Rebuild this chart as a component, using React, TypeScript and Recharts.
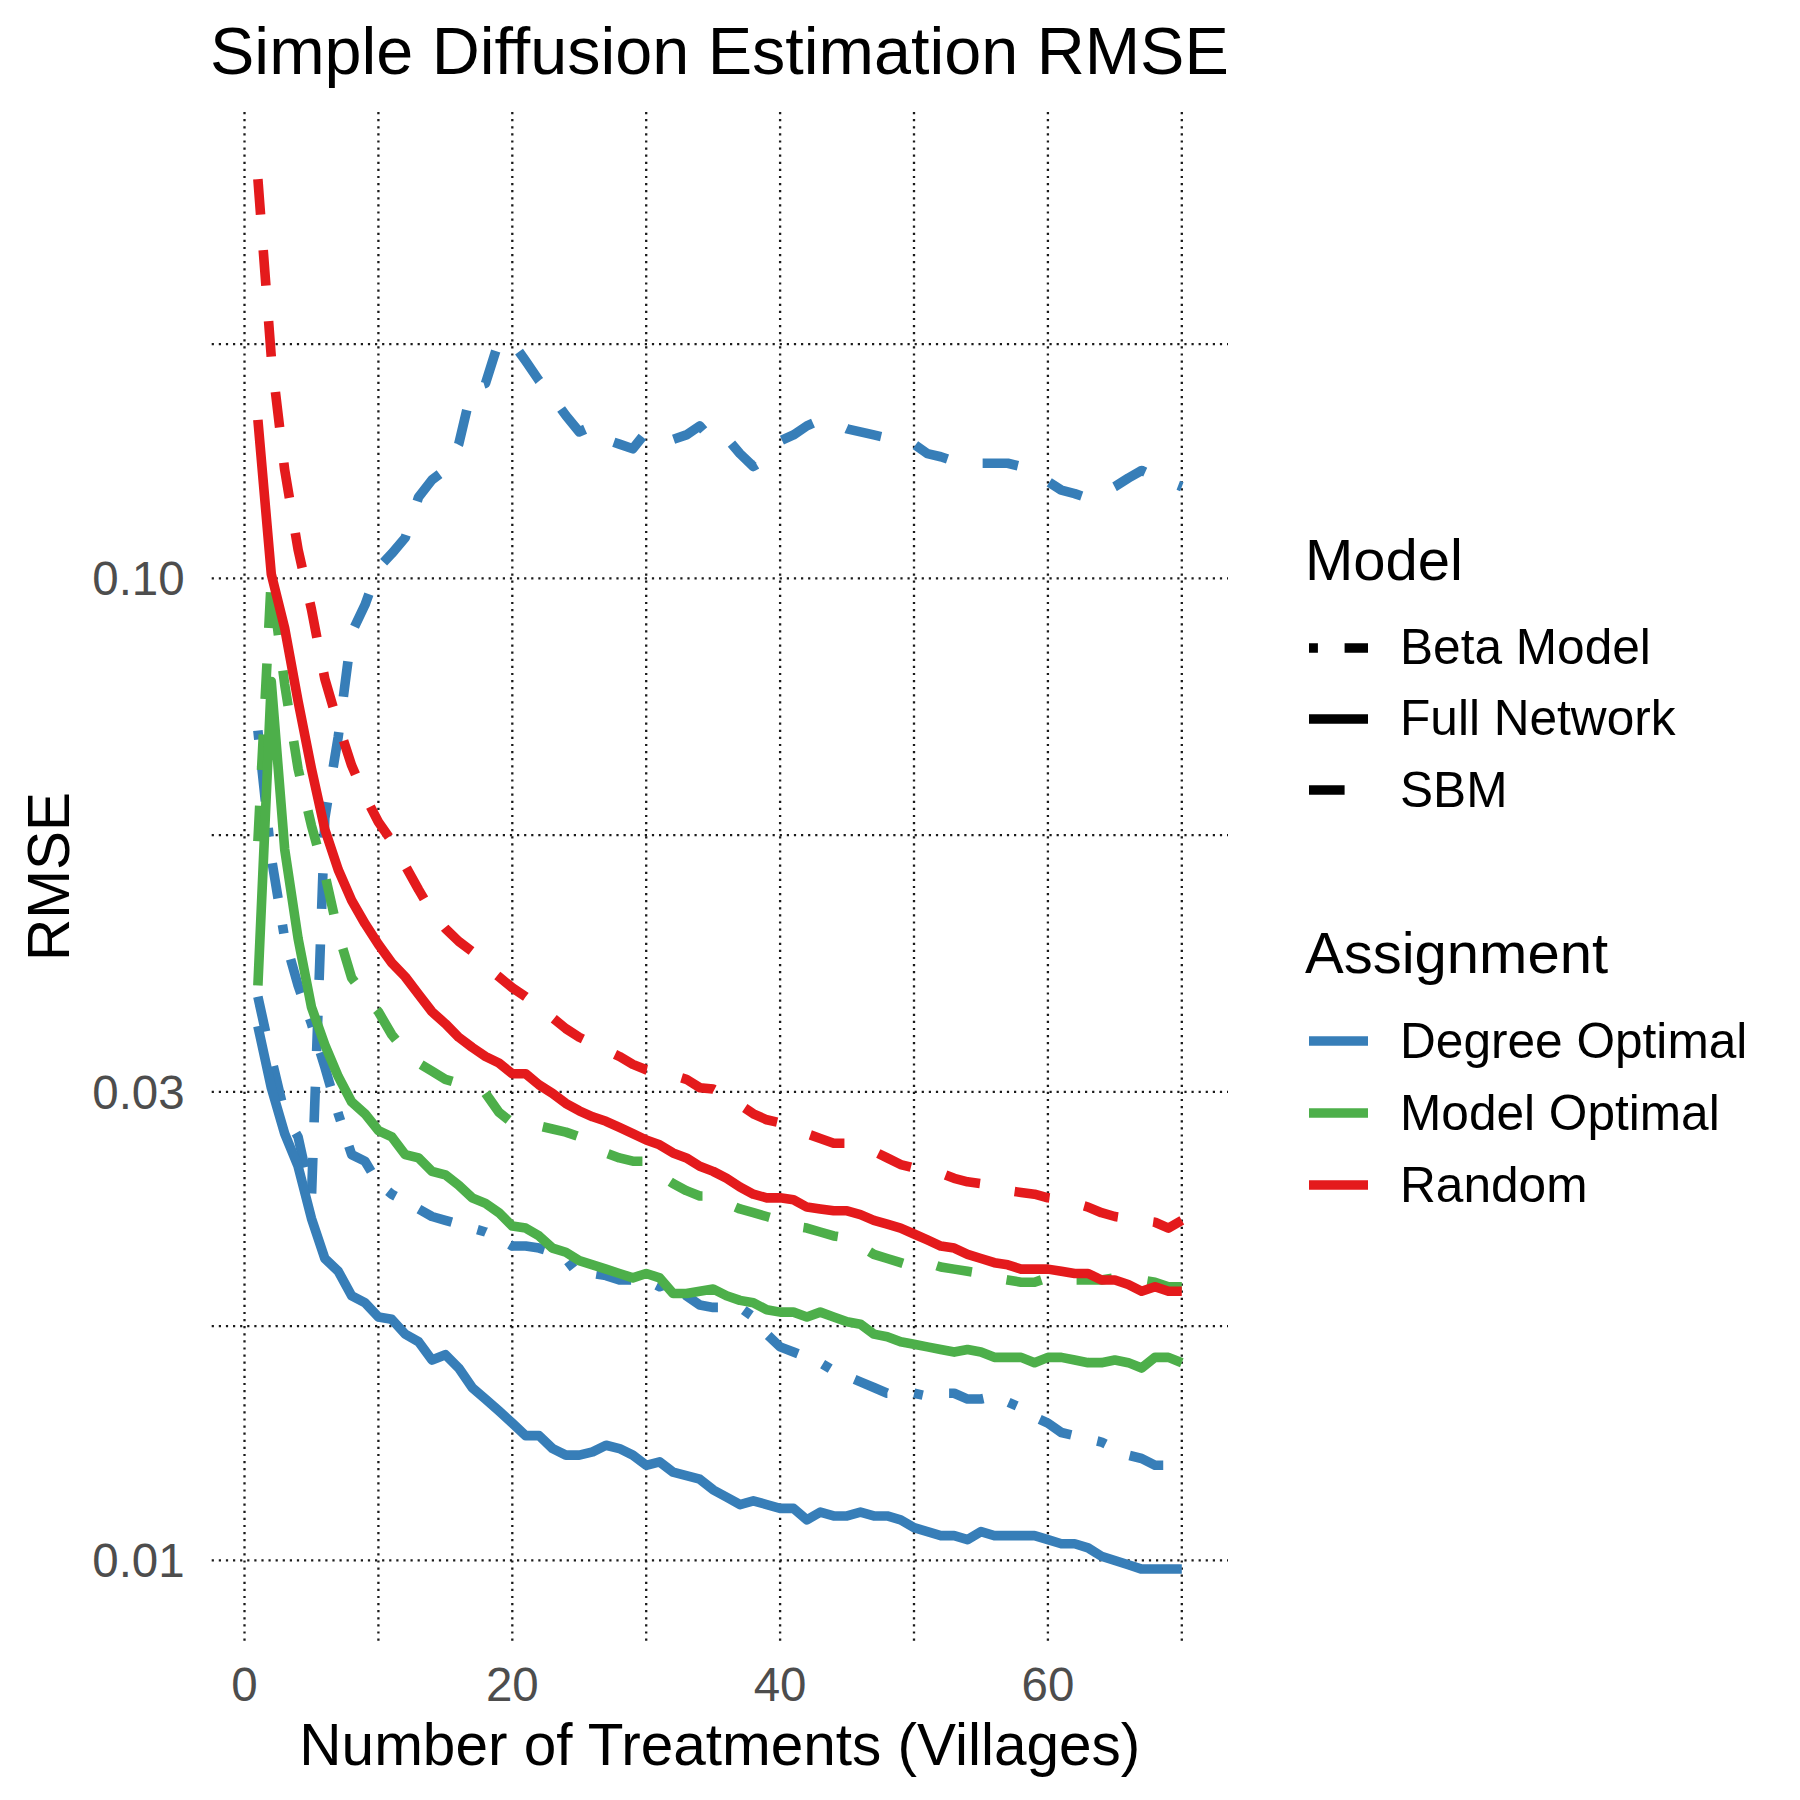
import React from 'react';
import { LineChart, Line, XAxis, YAxis, CartesianGrid, Label } from 'recharts';

// x: number of treated villages
const treatments = [
  1, 2, 3, 4, 5, 6, 7, 8, 9, 10, 11, 12, 13, 14, 15, 16, 17, 18, 19, 20,
  21, 22, 23, 24, 25, 26, 27, 28, 29, 30, 31, 32, 33, 34, 35, 36, 37, 38, 39, 40,
  41, 42, 43, 44, 45, 46, 47, 48, 49, 50, 51, 52, 53, 54, 55, 56, 57, 58, 59, 60,
  61, 62, 63, 64, 65, 66, 67, 68, 69, 70,
];

// Degree Optimal
const degreeSbm = [
  0.0375, 0.0325, 0.0285, 0.0270, 0.0234, 0.0570, 0.0690, 0.0880, 0.0940, 0.1025,
  0.1060, 0.1100, 0.1210, 0.1260, 0.1290, 0.1370, 0.1565, 0.1580, 0.1745, 0.1740,
  0.1665, 0.1590, 0.1530, 0.1465, 0.1410, 0.1430, 0.1385, 0.1370, 0.1355, 0.1410,
  0.1385, 0.1385, 0.1400, 0.1430, 0.1380, 0.1390, 0.1340, 0.1300, 0.1325, 0.1380,
  0.1400, 0.1430, 0.1450, 0.1440, 0.1420, 0.1410, 0.1400, 0.1390, 0.1385, 0.1370,
  0.1340, 0.1330, 0.1316, 0.1315, 0.1310, 0.1310, 0.1310, 0.1300, 0.1280, 0.1255,
  0.1230, 0.1220, 0.1207, 0.1220, 0.1240, 0.1265, 0.1288, 0.1270, 0.1255, 0.1240,
];
const degreeBeta = [
  0.0700, 0.0520, 0.0430, 0.0385, 0.0352, 0.0318, 0.0285, 0.0259, 0.0255, 0.0242,
  0.0236, 0.0232, 0.0228, 0.0224, 0.0222, 0.0220, 0.0218, 0.0216, 0.0213, 0.0209,
  0.0209, 0.0208, 0.0206, 0.0203, 0.0195, 0.0196, 0.0195, 0.0193, 0.0193, 0.0193,
  0.0190, 0.0192, 0.0186, 0.0182, 0.0181, 0.0181, 0.0181, 0.0177, 0.0170, 0.0165,
  0.0163, 0.0161, 0.0159, 0.0156, 0.0154, 0.0152, 0.0150, 0.0148, 0.0148, 0.0148,
  0.0147, 0.0148, 0.0148, 0.0146, 0.0146, 0.0147, 0.0145, 0.0143, 0.0140, 0.0138,
  0.0135, 0.0134, 0.0133, 0.0132, 0.0130, 0.0128, 0.0127, 0.0125, 0.0125, 0.0129,
];
const degreeFull = [
  0.0350, 0.0303, 0.0272, 0.0252, 0.0223, 0.0203, 0.0197, 0.0186, 0.0183, 0.0177,
  0.0176, 0.0170, 0.0167, 0.0160, 0.0162, 0.0157, 0.0150, 0.0146, 0.0142, 0.0138,
  0.0134, 0.0134, 0.0130, 0.0128, 0.0128, 0.0129, 0.0131, 0.0130, 0.0128, 0.0125,
  0.0126, 0.0123, 0.0122, 0.0121, 0.0118, 0.0116, 0.0114, 0.0115, 0.0114, 0.0113,
  0.0113, 0.0110, 0.0112, 0.0111, 0.0111, 0.0112, 0.0111, 0.0111, 0.0110, 0.0108,
  0.0107, 0.0106, 0.0106, 0.0105, 0.0107, 0.0106, 0.0106, 0.0106, 0.0106, 0.0105,
  0.0104, 0.0104, 0.0103, 0.0101, 0.0100, 0.0099, 0.0098, 0.0098, 0.0098, 0.0098,
];

// Model Optimal
const modelSbm = [
  0.0540, 0.1000, 0.0780, 0.0640, 0.0560, 0.0500, 0.0435, 0.0392, 0.0376, 0.0362,
  0.0343, 0.0330, 0.0321, 0.0315, 0.0309, 0.0306, 0.0304, 0.0299, 0.0286, 0.0279,
  0.0279, 0.0277, 0.0275, 0.0273, 0.0270, 0.0265, 0.0260, 0.0257, 0.0255, 0.0255,
  0.0247, 0.0242, 0.0238, 0.0235, 0.0235, 0.0231, 0.0228, 0.0226, 0.0224, 0.0222,
  0.0219, 0.0218, 0.0216, 0.0214, 0.0213, 0.0209, 0.0205, 0.0203, 0.0201, 0.0199,
  0.0201, 0.0199, 0.0198, 0.0197, 0.0196, 0.0194, 0.0193, 0.0192, 0.0192, 0.0194,
  0.0193, 0.0193, 0.0193, 0.0193, 0.0194, 0.0194, 0.0193, 0.0192, 0.0190, 0.0190,
];
const modelFull = [
  0.0385, 0.0785, 0.0530, 0.0430, 0.0366, 0.0335, 0.0311, 0.0293, 0.0285, 0.0274,
  0.0270, 0.0259, 0.0257, 0.0249, 0.0247, 0.0241, 0.0234, 0.0231, 0.0226, 0.0219,
  0.0218, 0.0214, 0.0208, 0.0206, 0.0202, 0.0200, 0.0198, 0.0196, 0.0194, 0.0196,
  0.0194, 0.0187, 0.0187, 0.0188, 0.0189, 0.0186, 0.0184, 0.0183, 0.0180, 0.0179,
  0.0179, 0.0177, 0.0179, 0.0177, 0.0175, 0.0174, 0.0170, 0.0169, 0.0167, 0.0166,
  0.0165, 0.0164, 0.0163, 0.0164, 0.0163, 0.0161, 0.0161, 0.0161, 0.0159, 0.0161,
  0.0161, 0.0160, 0.0159, 0.0159, 0.0160, 0.0159, 0.0157, 0.0161, 0.0161, 0.0159,
];

// Random
const randomSbm = [
  0.2550, 0.1680, 0.1290, 0.1070, 0.0930, 0.0790, 0.0710, 0.0645, 0.0600, 0.0565,
  0.0540, 0.0510, 0.0482, 0.0457, 0.0440, 0.0427, 0.0417, 0.0403, 0.0393, 0.0383,
  0.0375, 0.0366, 0.0357, 0.0348, 0.0341, 0.0336, 0.0331, 0.0326, 0.0320, 0.0316,
  0.0314, 0.0312, 0.0309, 0.0303, 0.0302, 0.0297, 0.0291, 0.0285, 0.0281, 0.0279,
  0.0276, 0.0272, 0.0269, 0.0266, 0.0266, 0.0264, 0.0261, 0.0257, 0.0253, 0.0251,
  0.0250, 0.0248, 0.0245, 0.0243, 0.0242, 0.0240, 0.0238, 0.0237, 0.0236, 0.0234,
  0.0233, 0.0231, 0.0229, 0.0226, 0.0224, 0.0223, 0.0222, 0.0221, 0.0218, 0.0222,
];
const randomFull = [
  0.1450, 0.1010, 0.0890, 0.0750, 0.0640, 0.0555, 0.0505, 0.0470, 0.0445, 0.0424,
  0.0406, 0.0393, 0.0377, 0.0362, 0.0352, 0.0341, 0.0333, 0.0326, 0.0321, 0.0313,
  0.0313, 0.0305, 0.0299, 0.0292, 0.0287, 0.0283, 0.0280, 0.0276, 0.0272, 0.0268,
  0.0265, 0.0260, 0.0257, 0.0252, 0.0249, 0.0245, 0.0240, 0.0236, 0.0234, 0.0234,
  0.0233, 0.0229, 0.0228, 0.0227, 0.0227, 0.0225, 0.0222, 0.0220, 0.0218, 0.0215,
  0.0212, 0.0209, 0.0208, 0.0205, 0.0203, 0.0201, 0.0200, 0.0198, 0.0198, 0.0198,
  0.0197, 0.0196, 0.0196, 0.0193, 0.0193, 0.0191, 0.0188, 0.0190, 0.0188, 0.0188,
];

const xTicks = [0, 20, 40, 60];
const xGrid = [0, 10, 20, 30, 40, 50, 60, 70];
const yTicks = [0.01, 0.03, 0.1];
// major breaks plus the log-midpoint minor breaks
const yGrid = [0.01, 0.017321, 0.03, 0.054772, 0.1, 0.173205];

const modelLabels = ['Beta Model', 'Full Network', 'SBM'];
const assignmentLabels = ['Degree Optimal', 'Model Optimal', 'Random'];

const BLUE = '#377EB8';
const GREEN = '#4DAF4A';
const RED = '#E41A1C';
const FONT = '"Liberation Sans", Arial, Helvetica, sans-serif';
const LINE_W = 9.6;
const DASHED = '35.6 35.6';
const DOTDASH = '8.9 26.7 35.6 26.7';

const data = treatments.map((t, i) => ({
  t,
  degreeSbm: degreeSbm[i],
  degreeBeta: degreeBeta[i],
  degreeFull: degreeFull[i],
  modelSbm: modelSbm[i],
  modelFull: modelFull[i],
  randomSbm: randomSbm[i],
  randomFull: randomFull[i],
}));

const series = [
  { key: 'degreeSbm', color: BLUE, dash: DASHED },
  { key: 'degreeBeta', color: BLUE, dash: DOTDASH },
  { key: 'degreeFull', color: BLUE, dash: undefined },
  { key: 'modelSbm', color: GREEN, dash: DASHED },
  { key: 'modelFull', color: GREEN, dash: undefined },
  { key: 'randomSbm', color: RED, dash: DASHED },
  { key: 'randomFull', color: RED, dash: undefined },
];

const modelKeys = [
  { color: '#000', dash: DOTDASH },
  { color: '#000', dash: undefined },
  { color: '#000', dash: DASHED },
];
const assignmentKeys = [BLUE, GREEN, RED];

const textTop = (center: number, size: number) => center - 0.4885 * size;

function LegendRow({ y, label, color, dash }: { y: number; label: string; color: string; dash?: string }) {
  return (
    <>
      <svg width={59} height={20} style={{ position: 'absolute', left: 1309, top: y - 10 }}>
        <line x1={0} y1={10} x2={59} y2={10} stroke={color} strokeWidth={LINE_W} strokeDasharray={dash} />
      </svg>
      <div
        style={{
          position: 'absolute',
          left: 1400,
          top: textTop(y, 49.6),
          fontSize: 49.6,
          lineHeight: '49.6px',
          whiteSpace: 'nowrap',
          color: '#000',
        }}
      >
        {label}
      </div>
    </>
  );
}

export default function App() {
  const tickStyle = { fill: '#4D4D4D', fontSize: 47.5, fontFamily: FONT };
  return (
    <div
      style={{
        position: 'absolute',
        left: 0,
        top: 0,
        width: 1800,
        height: 1800,
        background: '#fff',
        fontFamily: FONT,
      }}
    >
      <LineChart width={1800} height={1800} data={data} margin={{ top: 112, right: 572, bottom: 0, left: 0 }}>
        <CartesianGrid
          stroke="#1a1a1a"
          strokeWidth={2.3}
          strokeDasharray="2.2 4.9"
          horizontalValues={yGrid}
          verticalValues={xGrid}
        />
        <XAxis
          dataKey="t"
          type="number"
          domain={[-2.45, 73.45]}
          allowDataOverflow
          ticks={xTicks}
          height={159}
          axisLine={false}
          tickLine={false}
          tickSize={0}
          tickMargin={26}
          tick={tickStyle}
        >
          <Label
            value="Number of Treatments (Villages)"
            position="insideBottom"
            offset={35}
            style={{ fontSize: 58.5, fill: '#000', fontFamily: FONT }}
          />
        </XAxis>
        <YAxis
          type="number"
          scale="log"
          domain={[0.008279, 0.2985]}
          allowDataOverflow
          ticks={yTicks}
          tickFormatter={(v: number) => v.toFixed(2)}
          width={211.7}
          axisLine={false}
          tickLine={false}
          tickSize={0}
          tickMargin={27}
          tick={tickStyle}
        >
          <Label
            value="RMSE"
            angle={-90}
            position="insideLeft"
            offset={48}
            style={{ fontSize: 58.5, fill: '#000', fontFamily: FONT, textAnchor: 'middle' }}
          />
        </YAxis>
        {series.map((s) => (
          <Line
            key={s.key}
            dataKey={s.key}
            type="linear"
            stroke={s.color}
            strokeWidth={LINE_W}
            strokeDasharray={s.dash}
            strokeLinejoin="round"
            dot={false}
            activeDot={false}
            isAnimationActive={false}
          />
        ))}
      </LineChart>

      <div
        style={{
          position: 'absolute',
          left: 210,
          top: 18.4,
          fontSize: 66.5,
          lineHeight: '66.5px',
          whiteSpace: 'nowrap',
          color: '#000',
        }}
      >
        Simple Diffusion Estimation RMSE
      </div>

      <div style={{ position: 'absolute', left: 1305, top: 530.6, fontSize: 58, lineHeight: '58px', color: '#000' }}>
        Model
      </div>
      {modelLabels.map((label, i) => (
        <LegendRow key={label} y={647.5 + i * 71.2} label={label} color={modelKeys[i].color} dash={modelKeys[i].dash} />
      ))}

      <div style={{ position: 'absolute', left: 1305, top: 924.4, fontSize: 58, lineHeight: '58px', color: '#000' }}>
        Assignment
      </div>
      {assignmentLabels.map((label, i) => (
        <LegendRow key={label} y={1041 + i * 72} label={label} color={assignmentKeys[i]} />
      ))}
    </div>
  );
}
